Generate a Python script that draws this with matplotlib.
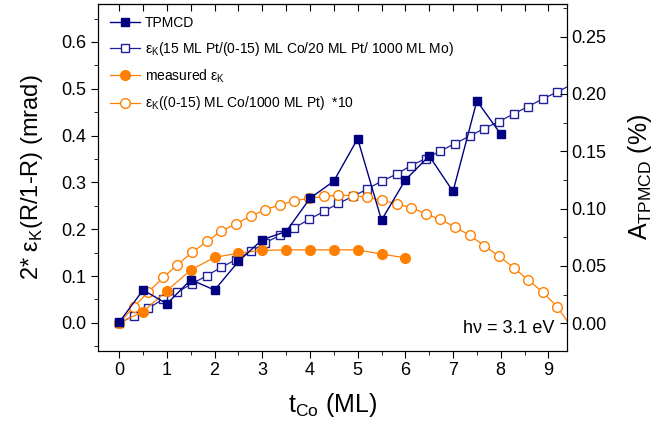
import matplotlib
matplotlib.use('Agg')
import matplotlib.pyplot as plt
from matplotlib.ticker import MultipleLocator

plt.rcParams['font.family'] = ['Liberation Sans', 'DejaVu Sans']
plt.rcParams['mathtext.fontset'] = 'custom'
plt.rcParams['mathtext.rm'] = 'Liberation Sans'

# TPMCD asymmetry, measured every half monolayer (right axis, %)
t_meas = [0, 0.5, 1, 1.5, 2, 2.5, 3, 3.5, 4, 4.5, 5, 5.5, 6, 6.5, 7, 7.5, 8]
tpmcd = [0.001, 0.029, 0.017, 0.038, 0.029, 0.054, 0.073, 0.080, 0.109, 0.124,
         0.161, 0.090, 0.125, 0.146, 0.115, 0.194, 0.165]

# measured Kerr ellipticity (left axis)
t_kerr = [0, 0.5, 1, 1.5, 2, 2.5, 3, 3.5, 4, 4.5, 5, 5.5, 6]
eps_meas = [0.0, 0.024, 0.069, 0.113, 0.140, 0.149, 0.155, 0.156, 0.156, 0.156,
            0.156, 0.147, 0.139]

# calculated thickness grid (0-15 ML), only the visible part
t_calc = [0, 0.31, 0.61, 0.92, 1.22, 1.53, 1.84, 2.14, 2.45, 2.76, 3.06, 3.37,
          3.67, 3.98, 4.29, 4.59, 4.90, 5.20, 5.51, 5.82, 6.12, 6.43, 6.73, 7.04,
          7.35, 7.65, 7.96, 8.27, 8.57, 8.88, 9.18, 9.49]
eps_mo = [0.0, 0.015, 0.031, 0.051, 0.066, 0.084, 0.101, 0.119, 0.135, 0.153,
          0.171, 0.187, 0.203, 0.221, 0.238, 0.255, 0.270, 0.286, 0.303, 0.318,
          0.336, 0.351, 0.367, 0.383, 0.399, 0.415, 0.430, 0.446, 0.462, 0.478,
          0.493, 0.509]
eps_pt10 = [0.0, 0.035, 0.066, 0.097, 0.124, 0.151, 0.174, 0.196, 0.212, 0.228,
            0.242, 0.252, 0.261, 0.266, 0.270, 0.273, 0.272, 0.268, 0.262, 0.254,
            0.246, 0.233, 0.221, 0.205, 0.187, 0.165, 0.143, 0.118, 0.092, 0.066,
            0.035, -0.010]

navy = '#000080'
navy2 = '#1f1f99'
orange = '#ff8000'

fig = plt.figure(figsize=(6.69, 4.26), dpi=100)
ax = fig.add_axes([0.1469, 0.1768, 0.6999, 0.8138])
ax2 = ax.twinx()

l2, = ax.plot(t_calc, eps_mo, '-s', color=navy2, mfc='white', mec=navy2,
              ms=5.5, lw=0.9, mew=1.0,
              label='ε$_\\mathregular{K}$(15 ML Pt/(0-15) ML Co/20 ML Pt/ 1000 ML Mo)')
l4, = ax.plot(t_calc, eps_pt10, '-o', color=orange, mfc='white', mec=orange,
              ms=7, lw=0.9, mew=1.0,
              label='ε$_\\mathregular{K}$((0-15) ML Co/1000 ML Pt)  *10')
l3, = ax.plot(t_kerr, eps_meas, '-o', color=orange, ms=7, lw=0.9,
              label='measured ε$_\\mathregular{K}$')
l1, = ax2.plot(t_meas, tpmcd, '-s', color=navy, ms=6, lw=1.0, label='TPMCD')

ax.set_xlim(-0.44, 9.38)
ax.set_ylim(-0.0593, 0.681)
ax2.set_ylim(-0.0239, 0.2785)

ax.xaxis.set_major_locator(MultipleLocator(1))
ax.xaxis.set_minor_locator(MultipleLocator(0.5))
ax.yaxis.set_major_locator(MultipleLocator(0.1))
ax.yaxis.set_minor_locator(MultipleLocator(0.05))
ax2.yaxis.set_major_locator(MultipleLocator(0.05))
ax2.yaxis.set_minor_locator(MultipleLocator(0.025))
ax.yaxis.set_major_formatter(matplotlib.ticker.FormatStrFormatter('%.1f'))
ax2.yaxis.set_major_formatter(matplotlib.ticker.FormatStrFormatter('%.2f'))

ax.tick_params(axis='x', which='both', direction='out', top=False, labelsize=13)
ax.tick_params(axis='x', which='major', length=5)
ax.tick_params(axis='x', which='minor', length=3)
ax.tick_params(axis='y', which='both', direction='out', labelsize=13)
ax.tick_params(axis='y', which='major', length=5)
ax.tick_params(axis='y', which='minor', length=3)
ax2.tick_params(axis='y', which='both', direction='in', labelsize=13)
ax2.tick_params(axis='y', which='major', length=5)
ax2.tick_params(axis='y', which='minor', length=3)

# inward ticks along the top edge, every half monolayer
sec = ax.secondary_xaxis('top')
sec.xaxis.set_major_locator(MultipleLocator(0.5))
sec.tick_params(direction='in', length=5, labeltop=False)

ax.set_xlabel('t$_\\mathregular{Co}$ (ML)', fontsize=18, labelpad=8)
ax.set_ylabel('2* ε$_\\mathregular{K}$(R/1-R) (mrad)', fontsize=17, labelpad=12)
ax2.set_ylabel('A$_\\mathregular{TPMCD}$ (%)', fontsize=18, labelpad=14)

ax.text(0.975, 0.04, 'h\u03bd = 3.1 eV', transform=ax.transAxes,
        ha='right', va='bottom', fontsize=13)

ax2.legend([l1, l2, l3, l4], [h.get_label() for h in [l1, l2, l3, l4]],
           loc='upper left', bbox_to_anchor=(0.008, 0.99), frameon=False,
           fontsize=10, numpoints=1, handlelength=2.1, handletextpad=0.4,
           labelspacing=0.7, borderaxespad=0.2)

fig.savefig('out.png', dpi=100)
